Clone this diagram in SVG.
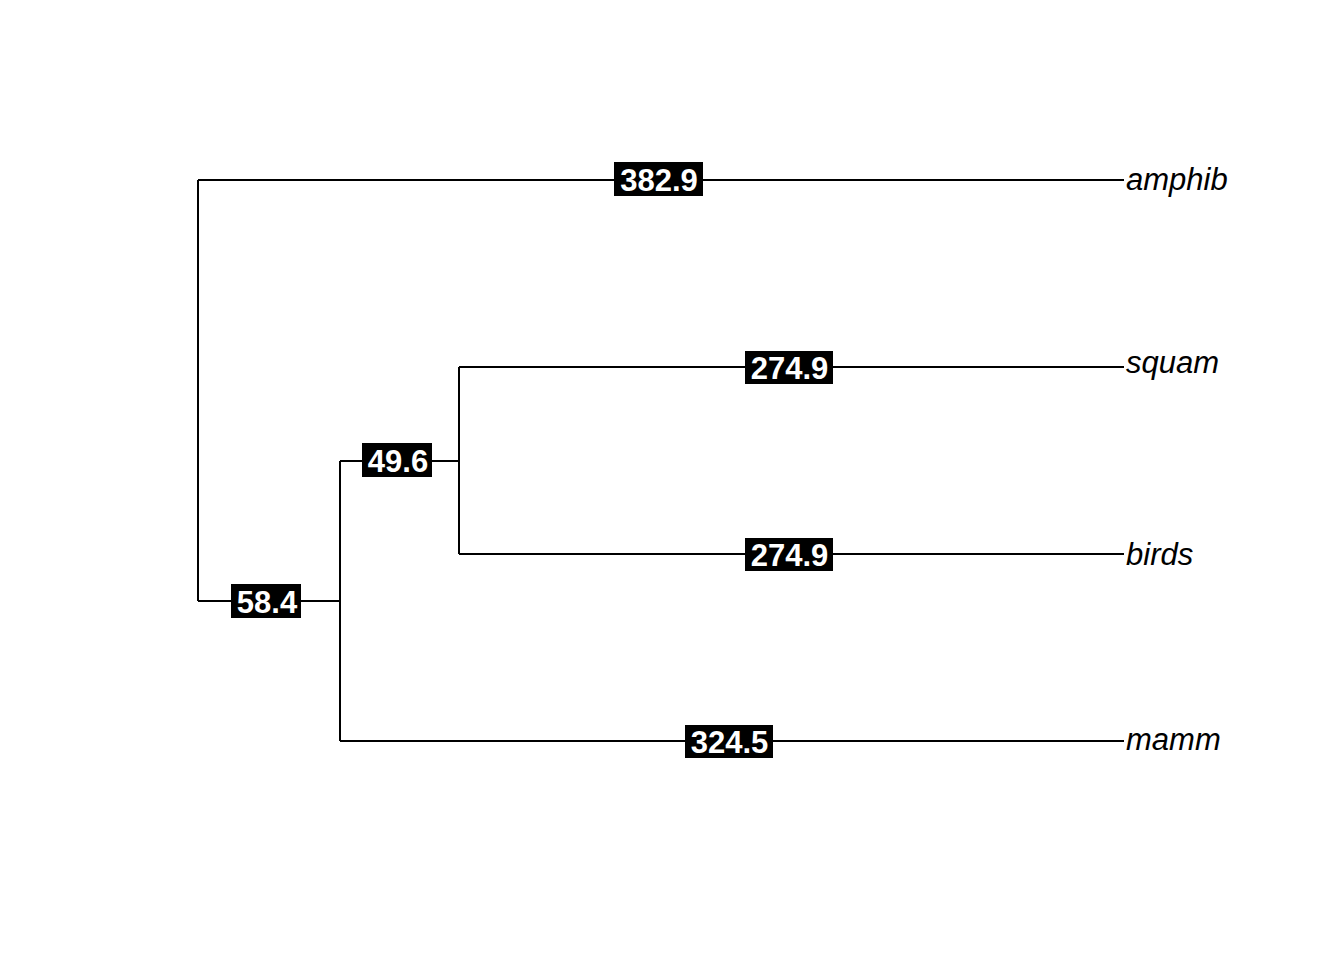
<svg xmlns="http://www.w3.org/2000/svg" width="1344" height="960" viewBox="0 0 1344 960">
<style>
.edge{fill:none;stroke:#000;stroke-width:2}
.box{fill:#000}
.lab{font-family:"Liberation Sans",Arial,sans-serif;font-weight:bold;font-size:31px;fill:#fff;text-anchor:middle}
.tip{font-family:"Liberation Sans",Arial,sans-serif;font-style:italic;font-size:31px;fill:#000}
</style>
<rect width="1344" height="960" fill="#fff"/>
<g id="connectors">
<path class="edge" d="M198,180 V601 M198,180 H1124 M198,601 H340 M340,461 V741 M340,461 H459 M459,367 V554 M459,367 H1124 M459,554 H1124 M340,741 H1124"/>
</g>
<g id="edge-amphib"><rect class="box" x="614" y="162" width="89" height="34"/><text class="lab" x="659" y="191">382.9</text></g>
<g id="edge-squam"><rect class="box" x="745" y="351" width="88" height="33"/><text class="lab" x="789.5" y="379">274.9</text></g>
<g id="edge-birds"><rect class="box" x="745" y="538" width="88" height="33"/><text class="lab" x="789.5" y="566">274.9</text></g>
<g id="edge-mamm"><rect class="box" x="685" y="725" width="88" height="33"/><text class="lab" x="729.5" y="753">324.5</text></g>
<g id="edge-inner"><rect class="box" x="362" y="443" width="70" height="34"/><text class="lab" x="398" y="472">49.6</text></g>
<g id="edge-root"><rect class="box" x="231" y="584" width="70" height="34"/><text class="lab" x="267" y="613">58.4</text></g>
<g id="tip-amphib"><text class="tip" x="1126" y="190">amphib</text></g>
<g id="tip-squam"><text class="tip" x="1126" y="373">squam</text></g>
<g id="tip-birds"><text class="tip" x="1126" y="565">birds</text></g>
<g id="tip-mamm"><text class="tip" x="1126" y="750">mamm</text></g>
</svg>
